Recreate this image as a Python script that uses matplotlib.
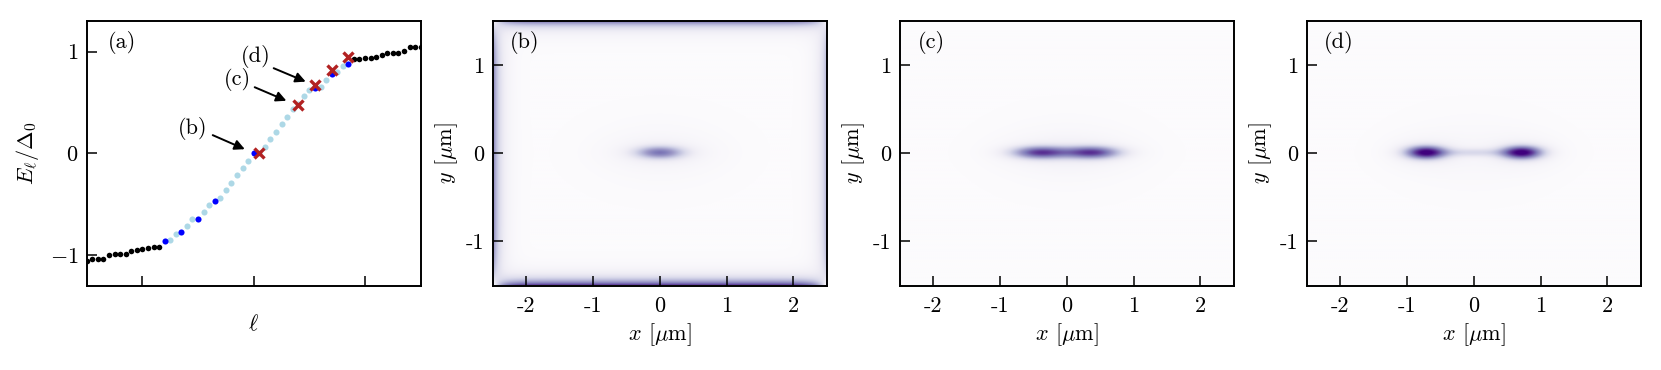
import numpy as np
import matplotlib
matplotlib.use('Agg')
import matplotlib.pyplot as plt

plt.rcParams.update({
    'font.family': 'serif',
    'font.serif': ['cmr10'],
    'mathtext.fontset': 'cm',
    'axes.formatter.use_mathtext': True,
    'font.size': 16,
    'axes.linewidth': 1.4,
})

# ---------------- panel (a) data ----------------
ell_black_left = [-30, -29, -28, -27, -26, -25, -24, -23, -22, -21, -20, -19, -18, -17]
E_black_left = [-1.06, -1.035, -1.035, -1.04, -1.005, -0.99, -0.99, -0.99,
                -0.965, -0.95, -0.94, -0.935, -0.925, -0.92]
ell_black_right = [18, 19, 20, 21, 22, 23, 24, 25, 26, 27, 28, 29, 30]
E_black_right = [0.925, 0.925, 0.935, 0.94, 0.95, 0.964, 0.984, 0.984,
                 0.99, 1.007, 1.043, 1.043, 1.043]
ell_lightblue = [-15, -14, -12, -11, -9, -8, -6, -5, -4, -3, -2, -1,
                 1, 2, 3, 4, 5, 6, 7, 8, 9, 10, 12, 13, 15, 16]
E_lightblue = [-0.849, -0.79, -0.719, -0.65, -0.573, -0.506, -0.437, -0.362,
               -0.289, -0.217, -0.145, -0.076,
               0.0, 0.066, 0.14, 0.21, 0.286, 0.358, 0.431, 0.48, 0.563, 0.622,
               0.656, 0.721, 0.80, 0.86]
ell_blue = [-16, -13, -10, -7, 0, 11, 14, 17]
E_blue = [-0.864, -0.778, -0.648, -0.465, 0.0, 0.64, 0.778, 0.876]
ell_red = [1, 8, 11, 14, 17]
E_red = [0.0, 0.476, 0.67, 0.82, 0.946]

ell_ticks = [-20, 0, 20]
E_ticks = [-1, 0, 1]

# annotation labels: (label, text position, arrow tail, arrow head)
annot_labels = ['(b)', '(c)', '(d)']
annot_text_pos = [(-10.9, 0.244), (-3.0, 0.727), (0.36, 0.95)]
annot_tail = [(-7.36, 0.178), (0.18, 0.649), (3.59, 0.836)]
annot_head = [(-1.6, 0.04), (5.87, 0.516), (9.34, 0.704)]

# ---------------- density panels ----------------
x_ticks = [-2, -1, 0, 1, 2]
x_ticklabels = ['-2', '-1', '0', '1', '2']
y_ticks = [-1, 0, 1]
y_ticklabels = ['-1', '0', '1']
panel_labels = ['(b)', '(c)', '(d)']

# blob parameters per panel: (x0, sigma_x, sigma_y, amplitude)
blobs_b = [(0.0, 0.25, 0.05, 0.55), (0.0, 0.48, 0.12, 0.07)]
blobs_c = [(-0.4, 0.29, 0.05, 0.74), (0.38, 0.29, 0.05, 0.74),
           (0.0, 0.62, 0.13, 0.08)]
blobs_d = [(-0.72, 0.21, 0.052, 0.95), (0.72, 0.21, 0.052, 0.95),
           (0.0, 0.35, 0.035, 0.2), (-0.72, 0.38, 0.13, 0.07), (0.72, 0.38, 0.13, 0.07)]
halo = (0.0, 0.8, 0.32, 0.03)
edge_b = {'top': 0.75, 'bottom': 0.8, 'left': 0.6, 'right': 0.42}
edge_width = 0.07
xg = np.linspace(-2.5, 2.5, 501)
yg = np.linspace(-1.5, 1.5, 301)
X, Y = np.meshgrid(xg, yg)


def blob(x0, sx, sy, amp):
    return amp * np.exp(-(X - x0) ** 2 / (2 * sx ** 2) - Y ** 2 / (2 * sy ** 2))


def density(blobs, edges=None):
    Z = blob(*halo)
    for b in blobs:
        Z = Z + blob(*b)
    if edges:
        fx = (1 - np.exp(-(X + 2.5) / 0.15)) * (1 - np.exp(-(2.5 - X) / 0.15))
        fy = (1 - np.exp(-(Y + 1.5) / 0.15)) * (1 - np.exp(-(1.5 - Y) / 0.15))
        Z = Z + edges['top'] * np.exp(-(1.5 - Y) / edge_width) * fx
        Z = Z + edges['bottom'] * np.exp(-(Y + 1.5) / edge_width) * fx
        Z = Z + edges['left'] * np.exp(-(X + 2.5) / (edge_width * 1.5)) * fy
        Z = Z + edges['right'] * np.exp(-(2.5 - X) / (edge_width * 1.5)) * fy
    return Z


fields = [density(blobs_b, edge_b), density(blobs_c), density(blobs_d)]

W, H = 1661, 370
fig = plt.figure(figsize=(W / 100, H / 100), dpi=100)
lefts = [86.7, 492.7, 899.7, 1306.7]
axw = 334 / W
bottom = 1 - 285.5 / H
axh = 264.5 / H

# ---- panel (a)
ax = fig.add_axes([lefts[0] / W, bottom, axw, axh])
ax.plot(ell_black_left, E_black_left, 'o', color='black', ms=4.0, mew=0, zorder=3)
ax.plot(ell_black_right, E_black_right, 'o', color='black', ms=4.0, mew=0, zorder=3)
ax.plot(ell_lightblue, E_lightblue, 'o', color='lightblue', ms=4.4, mew=0, zorder=3)
ax.plot(ell_blue, E_blue, 'o', color='blue', ms=4.4, mew=0, zorder=4)
ax.plot(ell_red, E_red, 'x', color='#b22222', ms=7, mew=2.4, zorder=5)
ax.set_xlim(-30, 30)
ax.set_ylim(-1.3, 1.3)
ax.set_xticks(ell_ticks)
ax.set_xticklabels([])
ax.set_yticks(E_ticks)
ax.tick_params(direction='in', length=7, width=1.1, top=False, right=False, pad=6)
ax.set_xlabel(r'$\ell$', labelpad=14)
ax.set_ylabel(r'$E_\ell/\Delta_0$', labelpad=6)
ax.text(0.106, 0.917, '(a)', transform=ax.transAxes, ha='center', va='center')
for lab, tp, tail, head in zip(annot_labels, annot_text_pos, annot_tail, annot_head):
    ax.text(tp[0], tp[1], lab, ha='center', va='center')
    ax.annotate('', xy=head, xytext=tail,
                arrowprops=dict(arrowstyle='-|>', color='black', lw=1.4,
                                mutation_scale=15, shrinkA=0, shrinkB=0))

# ---- panels (b)-(d)
for i, Z in enumerate(fields):
    ax = fig.add_axes([lefts[i + 1] / W, bottom, axw, axh])
    ax.imshow(Z, extent=[-2.5, 2.5, -1.5, 1.5], origin='lower', cmap='Purples',
              vmin=0, vmax=1, aspect='auto', interpolation='bilinear')
    ax.set_xlim(-2.5, 2.5)
    ax.set_ylim(-1.5, 1.5)
    ax.set_xticks(x_ticks)
    ax.set_xticklabels(x_ticklabels)
    ax.set_yticks(y_ticks)
    ax.set_yticklabels(y_ticklabels)
    ax.tick_params(direction='in', length=7, width=1.1, top=False, right=False, pad=6)
    ax.tick_params(axis='x', pad=8)
    ax.set_xlabel(r'$x$ [$\mu$m]', labelpad=4)
    ax.set_ylabel(r'$y$ [$\mu$m]', labelpad=4)
    ax.text(0.095, 0.92, panel_labels[i], transform=ax.transAxes, ha='center', va='center')

fig.savefig('out.png', dpi=100)
